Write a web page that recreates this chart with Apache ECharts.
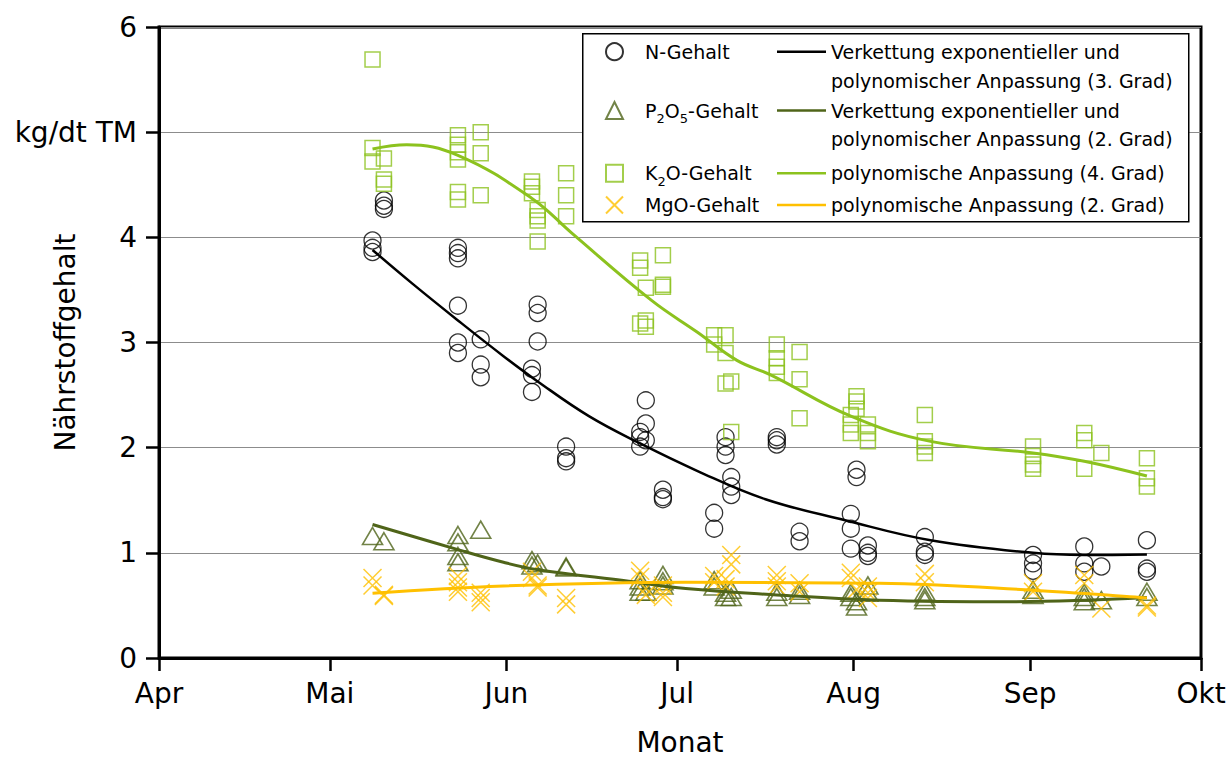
<!DOCTYPE html>
<html>
<head>
<meta charset="utf-8">
<script src="https://cdn.jsdelivr.net/npm/echarts@6/dist/echarts.min.js"></script>
<style>
  html, body { margin: 0; padding: 0; background: #fff; }
  #chart { width: 1229px; height: 758px; }
</style>
</head>
<body>
<div id="chart"></div>
<script>
// Month axis (1 April to 1 October)
const monthLabels = ['Apr', 'Mai', 'Jun', 'Jul', 'Aug', 'Sep', 'Okt'];
const monthLengths = [30, 31, 30, 31, 31, 30]; // April .. September
const yTickLabels = ['0', '1', '2', '3', '4', 'kg/dt TM', '6'];

// Sample values [date (MM-DD), kg/dt TM]
const nGehalt = [
  ['05-08', 3.97], ['05-08', 3.90], ['05-08', 3.86],
  ['05-10', 4.35], ['05-10', 4.30], ['05-10', 4.27],
  ['05-23', 3.90], ['05-23', 3.85], ['05-23', 3.80], ['05-23', 3.35], ['05-23', 3.00], ['05-23', 2.90],
  ['05-27', 3.03], ['05-27', 2.79], ['05-27', 2.67],
  ['06-05', 2.75], ['06-05', 2.69], ['06-05', 2.53],
  ['06-06', 3.36], ['06-06', 3.28], ['06-06', 3.01],
  ['06-11', 2.01], ['06-11', 1.90], ['06-11', 1.87],
  ['06-24', 2.15], ['06-24', 2.10], ['06-24', 2.01],
  ['06-25', 2.45], ['06-25', 2.23], ['06-25', 2.07],
  ['06-28', 1.60], ['06-28', 1.53], ['06-28', 1.51],
  ['07-07', 1.38], ['07-07', 1.23],
  ['07-09', 2.10], ['07-09', 2.01], ['07-09', 1.93],
  ['07-10', 1.72], ['07-10', 1.63], ['07-10', 1.55],
  ['07-18', 2.10], ['07-18', 2.07], ['07-18', 2.03],
  ['07-22', 1.20], ['07-22', 1.11],
  ['07-31', 1.37], ['07-31', 1.23], ['07-31', 1.04],
  ['08-01', 1.79], ['08-01', 1.72],
  ['08-03', 1.07], ['08-03', 1.00], ['08-03', 0.97],
  ['08-13', 1.15], ['08-13', 1.01], ['08-13', 0.98],
  ['09-01', 0.98], ['09-01', 0.90], ['09-01', 0.83],
  ['09-10', 1.06], ['09-10', 0.90], ['09-10', 0.82],
  ['09-13', 0.87],
  ['09-21', 1.12], ['09-21', 0.85], ['09-21', 0.82]
];
const p2o5Gehalt = [
  ['05-08', 1.16], ['05-10', 1.11],
  ['05-23', 1.17], ['05-23', 1.10], ['05-23', 0.97], ['05-23', 0.91],
  ['05-27', 1.22],
  ['06-05', 0.93], ['06-05', 0.88], ['06-06', 0.90],
  ['06-11', 0.87], ['06-11', 0.86],
  ['06-24', 0.74], ['06-24', 0.68], ['06-24', 0.63], ['06-25', 0.63],
  ['06-28', 0.79], ['06-28', 0.73], ['06-28', 0.69],
  ['07-07', 0.74], ['07-07', 0.68],
  ['07-09', 0.62], ['07-09', 0.58], ['07-10', 0.65], ['07-10', 0.58],
  ['07-18', 0.63], ['07-18', 0.58],
  ['07-22', 0.64], ['07-22', 0.60],
  ['07-31', 0.62], ['07-31', 0.58],
  ['08-01', 0.54], ['08-01', 0.49],
  ['08-03', 0.69], ['08-03', 0.62],
  ['08-13', 0.63], ['08-13', 0.58], ['08-13', 0.55],
  ['09-01', 0.65], ['09-01', 0.60],
  ['09-10', 0.62], ['09-10', 0.58], ['09-10', 0.54],
  ['09-13', 0.55],
  ['09-21', 0.63], ['09-21', 0.58]
];
const k2oGehalt = [
  ['05-08', 5.69], ['05-08', 4.85], ['05-08', 4.72],
  ['05-10', 4.75], ['05-10', 4.55], ['05-10', 4.51],
  ['05-23', 4.97], ['05-23', 4.88], ['05-23', 4.81], ['05-23', 4.74], ['05-23', 4.43], ['05-23', 4.36],
  ['05-27', 5.00], ['05-27', 4.80], ['05-27', 4.40],
  ['06-05', 4.53], ['06-05', 4.48], ['06-05', 4.42],
  ['06-06', 4.26], ['06-06', 4.20], ['06-06', 4.16], ['06-06', 3.96],
  ['06-11', 4.61], ['06-11', 4.40], ['06-11', 4.20],
  ['06-24', 3.78], ['06-24', 3.71], ['06-24', 3.18],
  ['06-25', 3.52], ['06-25', 3.21], ['06-25', 3.15],
  ['06-28', 3.83], ['06-28', 3.55], ['06-28', 3.53],
  ['07-07', 3.07], ['07-07', 2.98],
  ['07-09', 3.07], ['07-09', 2.90], ['07-09', 2.61],
  ['07-10', 2.63], ['07-10', 2.15],
  ['07-18', 2.98], ['07-18', 2.85], ['07-18', 2.77], ['07-18', 2.71],
  ['07-22', 2.91], ['07-22', 2.65], ['07-22', 2.28],
  ['07-31', 2.31], ['07-31', 2.22], ['07-31', 2.14],
  ['08-01', 2.49], ['08-01', 2.44], ['08-01', 2.37],
  ['08-03', 2.22], ['08-03', 2.14], ['08-03', 2.06],
  ['08-13', 2.31], ['08-13', 2.06], ['08-13', 2.01], ['08-13', 1.95],
  ['09-01', 2.01], ['09-01', 1.92], ['09-01', 1.84], ['09-01', 1.80],
  ['09-10', 2.14], ['09-10', 2.07], ['09-10', 1.80],
  ['09-13', 1.95],
  ['09-21', 1.90], ['09-21', 1.71], ['09-21', 1.63]
];
const mgoGehalt = [
  ['05-08', 0.76], ['05-08', 0.69],
  ['05-10', 0.60], ['05-10', 0.59],
  ['05-23', 0.78], ['05-23', 0.72], ['05-23', 0.67], ['05-23', 0.63],
  ['05-27', 0.62], ['05-27', 0.57], ['05-27', 0.53],
  ['06-05', 0.82], ['06-05', 0.76],
  ['06-06', 0.69], ['06-06', 0.67],
  ['06-11', 0.57], ['06-11', 0.51],
  ['06-24', 0.83], ['06-24', 0.77],
  ['06-25', 0.66], ['06-25', 0.60],
  ['06-28', 0.69], ['06-28', 0.62], ['06-28', 0.58],
  ['07-07', 0.78], ['07-07', 0.72],
  ['07-09', 0.75], ['07-09', 0.68],
  ['07-10', 0.98], ['07-10', 0.89],
  ['07-18', 0.79], ['07-18', 0.73], ['07-18', 0.68],
  ['07-22', 0.71], ['07-22', 0.63],
  ['07-31', 0.81], ['07-31', 0.76],
  ['08-01', 0.65],
  ['08-03', 0.68], ['08-03', 0.62], ['08-03', 0.57],
  ['08-13', 0.80], ['08-13', 0.72],
  ['09-01', 0.71], ['09-01', 0.63],
  ['09-10', 0.79], ['09-10', 0.71],
  ['09-13', 0.47],
  ['09-21', 0.50], ['09-21', 0.48]
];

// Fitted curves [date (MM-DD), kg/dt TM]
const nFit = [
  ['05-08', 3.88], ['05-15', 3.56], ['05-23', 3.21], ['05-31', 2.87], ['06-06', 2.63],
  ['06-15', 2.30], ['06-24', 2.04], ['07-04', 1.78], ['07-16', 1.51], ['07-30', 1.31],
  ['08-14', 1.12], ['09-01', 1.00], ['09-10', 0.98], ['09-21', 0.985]
];
const p2o5Fit = [
  ['05-08', 1.27], ['05-23', 1.03], ['05-31', 0.91], ['06-06', 0.84], ['06-22', 0.73],
  ['07-02', 0.66], ['07-18', 0.60], ['08-05', 0.55], ['08-28', 0.535], ['09-21', 0.575]
];
const k2oFit = [
  ['05-08', 4.84], ['05-14', 4.88], ['05-23', 4.78], ['06-05', 4.37], ['06-12', 4.04],
  ['06-26', 3.40], ['07-04', 3.10], ['07-11', 2.83], ['07-17', 2.69], ['07-31', 2.30],
  ['08-14', 2.06], ['09-01', 1.95], ['09-10', 1.87], ['09-21', 1.73]
];
const mgoFit = [
  ['05-08', 0.615], ['05-31', 0.685], ['07-02', 0.72], ['08-05', 0.71], ['09-01', 0.645], ['09-21', 0.57]
];

const FONT = 'DejaVu Sans';
const C_N = '#000000', C_P = '#4f6419', C_K = '#8cc21e', C_MG = '#ffc000';

// days after 1 April, samples placed at midday
function dayOf(md) {
  const [m, d] = md.split('-').map(Number);
  let off = 0;
  for (let i = 0; i < m - 4; i++) off += monthLengths[i];
  return off + d - 1 + 0.5;
}
const monthStarts = [0];
monthLengths.forEach(l => monthStarts.push(monthStarts[monthStarts.length - 1] + l));
const toXY = arr => arr.map(([d, v]) => [dayOf(d), v]);

const NAMES = {
  n: 'N-Gehalt', p: 'P2O5-Gehalt', k: 'K2O-Gehalt', mg: 'MgO-Gehalt',
  nf: 'Verkettung exponentieller und\npolynomischer Anpassung (3. Grad)',
  pf: 'Verkettung exponentieller und\npolynomischer Anpassung (2. Grad)',
  kf: 'polynomische Anpassung (4. Grad)',
  mf: 'polynomische Anpassung (2. Grad)'
};

const legendText = { fontFamily: FONT, fontSize: 19, color: '#000', lineHeight: 29 };
const subRich = { s: { fontFamily: FONT, fontSize: 13, lineHeight: 18, verticalAlign: 'bottom', color: '#000' } };
// one legend per row so that every entry sits on its own text line
function markerLegend(name, rowY) {
  return {
    data: [name], left: 605, top: rowY - 14.5, orient: 'vertical', padding: 0,
    itemWidth: 17, itemHeight: 17, selectedMode: false,
    textStyle: Object.assign({}, legendText, { padding: [0, 0, 0, 17], rich: subRich }),
    formatter: nm => nm.replace('P2O5', 'P{s|2}O{s|5}').replace('K2O', 'K{s|2}O')
  };
}
// two-line entries get an empty leading line, so the line sample stays on the first text line
function lineLegend(name, rowY, twoLines) {
  return {
    data: [{ name: name, icon: 'rect' }], left: 777, top: rowY - (twoLines ? 43.5 : 14.5),
    orient: 'vertical', padding: 0, itemWidth: 49, itemHeight: 2.6, selectedMode: false,
    textStyle: Object.assign({}, legendText),
    formatter: nm => (twoLines ? '\n' : '') + nm
  };
}

const markerStroke = (c, w) => ({ color: 'rgba(0,0,0,0)', borderColor: c, borderWidth: w });
const crossPath = 'path://M0,0L10,10M10,0L0,10';

const option = {
  animation: false,
  backgroundColor: '#fff',
  grid: {
    left: 159, right: 28, top: 27, bottom: 100, containLabel: false, outerBoundsMode: 'none',
    show: true, borderColor: '#000', borderWidth: 3
  },
  xAxis: {
    type: 'value', min: monthStarts[0], max: monthStarts[monthStarts.length - 1],
    axisLine: { lineStyle: { color: '#000', width: 3 } },
    axisTick: { show: true, inside: false, length: 13, lineStyle: { color: '#000', width: 2.5 }, customValues: monthStarts },
    axisLabel: {
      customValues: monthStarts, margin: 21, color: '#000', fontFamily: FONT, fontSize: 28,
      formatter: v => monthLabels[monthStarts.indexOf(v)]
    },
    splitLine: { show: false },
    name: 'Monat', nameLocation: 'middle', nameGap: 69, nameMoveOverlap: false,
    nameTextStyle: { color: '#000', fontFamily: FONT, fontSize: 28, lineHeight: 30 }
  },
  yAxis: {
    type: 'value', min: 0, max: 6, interval: 1,
    axisLine: { show: true, lineStyle: { color: '#000', width: 3 } },
    axisTick: { show: true, inside: false, length: 13, lineStyle: { color: '#000', width: 2.5 } },
    axisLabel: { margin: 22, color: '#000', fontFamily: FONT, fontSize: 28, formatter: v => yTickLabels[v] },
    splitLine: { show: true, lineStyle: { color: '#8c8c8c', width: 1.2 } },
    name: 'Nährstoffgehalt', nameLocation: 'middle', nameRotate: 90, nameGap: 80, nameMoveOverlap: false,
    nameTextStyle: { color: '#000', fontFamily: FONT, fontSize: 28 }
  },
  legend: [
    markerLegend(NAMES.n, 51.7), markerLegend(NAMES.p, 110.5),
    markerLegend(NAMES.k, 173.3), markerLegend(NAMES.mg, 205),
    lineLegend(NAMES.nf, 51.7, true), lineLegend(NAMES.pf, 110.5, true),
    lineLegend(NAMES.kf, 173.3, false), lineLegend(NAMES.mf, 205, false)
  ],
  graphic: [{
    type: 'rect', z: 3, left: 582, top: 33,
    shape: { width: 606, height: 188 },
    style: { fill: '#fff', stroke: '#000', lineWidth: 1.5 }
  }],
  series: [
    { type: 'scatter', name: NAMES.n, symbol: 'circle', symbolSize: 17, color: C_N,
      itemStyle: markerStroke(C_N, 1.3), data: toXY(nGehalt) },
    { type: 'scatter', name: NAMES.p, symbol: 'triangle', symbolSize: [20, 17], color: C_P,
      itemStyle: markerStroke(C_P, 1.6), data: toXY(p2o5Gehalt) },
    { type: 'scatter', name: NAMES.k, symbol: 'rect', symbolSize: 15, color: C_K,
      itemStyle: markerStroke(C_K, 1.5), data: toXY(k2oGehalt) },
    { type: 'scatter', name: NAMES.mg, symbol: crossPath, symbolSize: 18, color: C_MG,
      itemStyle: markerStroke(C_MG, 1.5), data: toXY(mgoGehalt) },
    { type: 'line', name: NAMES.nf, data: toXY(nFit), smooth: 0.4, symbol: 'none', color: C_N,
      lineStyle: { color: C_N, width: 2.5 } },
    { type: 'line', name: NAMES.pf, data: toXY(p2o5Fit), smooth: 0.4, symbol: 'none', color: C_P,
      lineStyle: { color: C_P, width: 3 } },
    { type: 'line', name: NAMES.kf, data: toXY(k2oFit), smooth: 0.4, symbol: 'none', color: C_K,
      lineStyle: { color: C_K, width: 3 } },
    { type: 'line', name: NAMES.mf, data: toXY(mgoFit), smooth: 0.4, symbol: 'none', color: C_MG,
      lineStyle: { color: C_MG, width: 3 } }
  ]
};

const chart = echarts.init(document.getElementById('chart'), null, { renderer: 'svg' });
chart.setOption(option);
</script>
</body>
</html>
